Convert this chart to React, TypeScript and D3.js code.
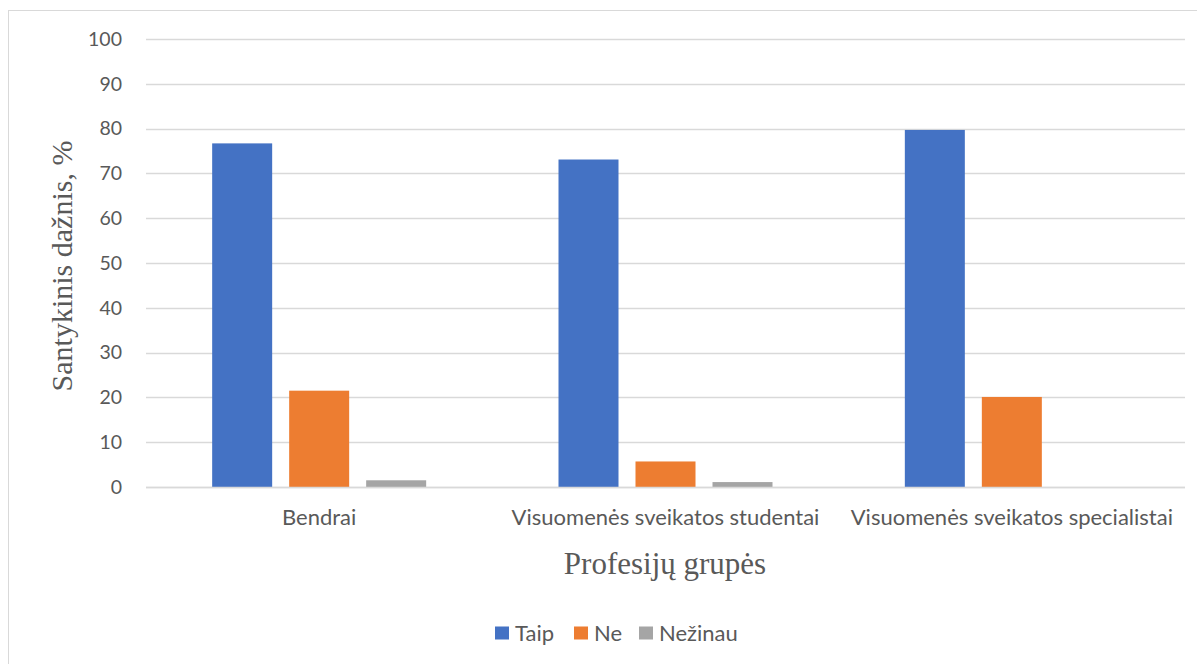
import React, { useEffect, useRef } from "react";
import * as d3 from "d3";

const categories = [
  "Bendrai",
  "Visuomenės sveikatos studentai",
  "Visuomenės sveikatos specialistai",
];
const seriesNames = ["Taip", "Ne", "Nežinau"];
const seriesColors = ["#4472C4", "#ED7D31", "#A5A5A5"];
const taipValues = [76.7, 73.1, 79.7];
const neValues = [21.5, 5.7, 20.1];
const nezinauValues = [1.5, 1.1, 0];
const yTicks = [0, 10, 20, 30, 40, 50, 60, 70, 80, 90, 100];

const W = 1197;
const H = 664;

export default function App() {
  const ref = useRef<SVGSVGElement | null>(null);

  useEffect(() => {
    const svg = d3.select(ref.current);
    svg.selectAll("*").remove();

    const plot = { left: 146, right: 1185, top: 39, bottom: 487 };
    const sans = "Lato, 'Open Sans', sans-serif";
    const serif = "'Liberation Serif', 'DejaVu Serif', serif";
    const textColor = "#595959";

    // chart area frame
    svg
      .append("rect")
      .attr("x", 8.5)
      .attr("y", 10.5)
      .attr("width", W - 8)
      .attr("height", H)
      .attr("fill", "#fff")
      .attr("stroke", "#D9D9D9")
      .attr("stroke-width", 1);

    const y = d3.scaleLinear().domain([0, 100]).range([plot.bottom, plot.top]);
    const x0 = d3
      .scaleBand<string>()
      .domain(categories)
      .range([plot.left, plot.right])
      .padding(0);
    const groupWidth = 214;
    const x1 = d3
      .scaleBand<string>()
      .domain(seriesNames)
      .range([0, groupWidth])
      .paddingInner(17 / 77)
      .paddingOuter(0);

    // gridlines
    svg
      .append("g")
      .selectAll("line")
      .data(yTicks)
      .join("line")
      .attr("x1", plot.left)
      .attr("x2", plot.right)
      .attr("y1", (d) => Math.round(y(d)) + 0.5)
      .attr("y2", (d) => Math.round(y(d)) + 0.5)
      .attr("stroke", "#D9D9D9")
      .attr("stroke-width", 1.3);

    // y tick labels
    svg
      .append("g")
      .selectAll("text")
      .data(yTicks)
      .join("text")
      .attr("x", 122)
      .attr("y", (d) => y(d))
      .attr("dy", "0.35em")
      .attr("text-anchor", "end")
      .attr("font-family", sans)
      .attr("font-size", 19.5)
      .attr("fill", textColor)
      .text((d) => String(d));

    const seriesValues = [taipValues, neValues, nezinauValues];
    const rows = categories.flatMap((c, ci) =>
      seriesNames.map((s, si) => ({ c, s, si, v: seriesValues[si][ci] }))
    );

    // bars
    svg
      .append("g")
      .selectAll("rect")
      .data(rows.filter((r) => r.v > 0))
      .join("rect")
      .attr(
        "x",
        (r) => (x0(r.c) as number) + (x0.bandwidth() - groupWidth) / 2 + (x1(r.s) as number)
      )
      .attr("width", x1.bandwidth())
      .attr("y", (r) => y(r.v))
      .attr("height", (r) => y(0) - y(r.v))
      .attr("fill", (r) => seriesColors[r.si]);

    // baseline redrawn over bar bottoms
    svg
      .append("line")
      .attr("x1", plot.left)
      .attr("x2", plot.right)
      .attr("y1", Math.round(y(0)) + 0.5)
      .attr("y2", Math.round(y(0)) + 0.5)
      .attr("stroke", "#D9D9D9")
      .attr("stroke-width", 1.3);

    // category labels
    svg
      .append("g")
      .selectAll("text")
      .data(categories)
      .join("text")
      .attr("x", (c) => (x0(c) as number) + x0.bandwidth() / 2)
      .attr("y", 525)
      .attr("text-anchor", "middle")
      .attr("font-family", sans)
      .attr("font-size", 22)
      .attr("fill", textColor)
      .text((c) => c);

    // axis titles
    svg
      .append("text")
      .attr("x", 665)
      .attr("y", 574)
      .attr("text-anchor", "middle")
      .attr("font-family", serif)
      .attr("font-size", 31)
      .attr("fill", textColor)
      .text("Profesijų grupės");

    svg
      .append("text")
      .attr("transform", "translate(72,266) rotate(-90)")
      .attr("text-anchor", "middle")
      .attr("font-family", serif)
      .attr("font-size", 30)
      .attr("fill", textColor)
      .text("Santykinis dažnis, %");

    // legend
    const legendX = [495, 574, 639];
    const lg = svg
      .append("g")
      .selectAll("g")
      .data(seriesNames)
      .join("g")
      .attr("transform", (_, i) => `translate(${legendX[i]},633)`);
    lg.append("rect")
      .attr("x", 0)
      .attr("y", -6.5)
      .attr("width", 14)
      .attr("height", 13)
      .attr("fill", (_, i) => seriesColors[i]);
    lg.append("text")
      .attr("x", 20)
      .attr("y", 0)
      .attr("dy", "0.35em")
      .attr("font-family", sans)
      .attr("font-size", 22)
      .attr("fill", textColor)
      .text((d) => d);
  }, []);

  return (
    <svg
      ref={ref}
      width={W}
      height={H}
      style={{ position: "absolute", left: 0, top: 0, display: "block" }}
    />
  );
}
